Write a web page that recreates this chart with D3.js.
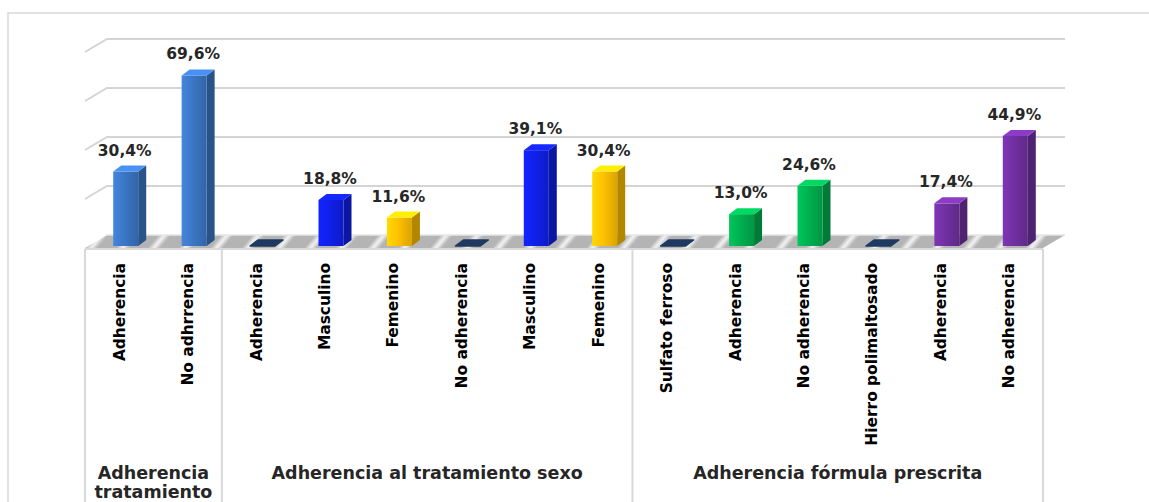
<!DOCTYPE html>
<html>
<head>
<meta charset="utf-8">
<script src="https://cdn.jsdelivr.net/npm/d3@7"></script>
<style>
  html, body { margin: 0; padding: 0; background: #fff; }
  svg { display: block; }
</style>
</head>
<body>
<div id="chart"></div>
<script>
// Chart data
const categories = ["Adherencia", "No adhrrencia", "Adherencia", "Masculino", "Femenino", "No adherencia",
  "Masculino", "Femenino", "Sulfato ferroso", "Adherencia", "No adherencia", "Hierro polimaltosado",
  "Adherencia", "No adherencia"];
const values = [30.4, 69.6, 0, 18.8, 11.6, 0, 39.1, 30.4, 0, 13.0, 24.6, 0, 17.4, 44.9];
const seriesKey = ["tratamiento", "tratamiento", "encabezado", "masculino", "femenino", "encabezado",
  "masculino", "femenino", "encabezado", "sulfato", "sulfato", "encabezado", "hierro", "hierro"];
const groupNames = [["Adherencia", "tratamiento"], ["Adherencia al tratamiento sexo"], ["Adherencia fórmula prescrita"]];
const groupSizes = [2, 6, 6];
const yTicks = [0, 20, 40, 60, 80];

const seriesColors = {
  tratamiento: "#3b76c4",
  encabezado: "#1f3a60",
  masculino: "#1020e8",
  femenino: "#ffc000",
  sulfato: "#00b050",
  hierro: "#7030a0"
};

const width = 1149, height = 502;
const depth = { dx: 22, dy: -13 };   // floor / side wall depth
const barDepth = { dx: 8, dy: -6 };  // bar depth
const floorFrontY = 248;
const barBaseY = 246;

const svg = d3.select("#chart").append("svg")
  .attr("width", width).attr("height", height);
const defs = svg.append("defs");

// Scales
const x = d3.scaleBand().domain(d3.range(categories.length)).range([85, 1043]);
const y = d3.scaleLinear().domain([0, 80]).range([235, 39]);

const fmt = v => d3.format(".1f")(v).replace(".", ",") + "%";

// outer frame
svg.append("path")
  .attr("d", `M8,${height} V13 H${width}`)
  .attr("fill", "none").attr("stroke", "#d9d9d9").attr("stroke-width", 1.5);

// gridlines (back wall + side wall diagonals)
const grid = svg.append("g");
yTicks.filter(t => t > 0).forEach(t => {
  const gy = y(t);
  grid.append("path")
    .attr("d", `M${x.range()[0]},${gy - depth.dy} L${x.range()[0] + depth.dx},${gy} H${x.range()[1] + depth.dx}`)
    .attr("fill", "none").attr("stroke", "#d4d4d4").attr("stroke-width", 2);
});

// floor with soft diagonal stripes
const stripe = defs.append("linearGradient").attr("id", "stripeGrad")
  .attr("x1", "0%").attr("x2", "100%");
stripe.append("stop").attr("offset", "0%").attr("stop-color", "#b4b4b4");
stripe.append("stop").attr("offset", "35%").attr("stop-color", "#b4b4b4");
stripe.append("stop").attr("offset", "55%").attr("stop-color", "#f4f4f4");
stripe.append("stop").attr("offset", "75%").attr("stop-color", "#b4b4b4");
stripe.append("stop").attr("offset", "100%").attr("stop-color", "#b4b4b4");

const pat = defs.append("pattern")
  .attr("id", "floorPat").attr("patternUnits", "userSpaceOnUse")
  .attr("width", 24).attr("height", 24)
  .attr("patternTransform", "rotate(40)");
pat.append("rect").attr("width", 24).attr("height", 24).attr("fill", "url(#stripeGrad)");

const fx0 = x.range()[0], fx1 = x.range()[1];
svg.append("path")
  .attr("d", `M${fx0},${floorFrontY} L${fx0 + depth.dx},${floorFrontY + depth.dy} L${fx1 + depth.dx},${floorFrontY + depth.dy} L${fx1},${floorFrontY} Z`)
  .attr("fill", "url(#floorPat)");
svg.append("line")
  .attr("x1", fx0 + depth.dx).attr("x2", fx1 + depth.dx)
  .attr("y1", floorFrontY + depth.dy).attr("y2", floorFrontY + depth.dy)
  .attr("stroke", "#e6e6e6").attr("stroke-width", 1.5);

// gradients for bar front faces
Object.entries(seriesColors).forEach(([k, c]) => {
  const g = defs.append("linearGradient").attr("id", "grad-" + k)
    .attr("x1", "0%").attr("x2", "100%");
  g.append("stop").attr("offset", "0%").attr("stop-color", d3.color(c).brighter(0.35));
  g.append("stop").attr("offset", "45%").attr("stop-color", c);
  g.append("stop").attr("offset", "100%").attr("stop-color", d3.color(c).darker(0.45));
});

// bars
const bars = svg.append("g").selectAll("g")
  .data(values.map((v, i) => ({ v, i, key: seriesKey[i] })))
  .join("g");

bars.each(function (d) {
  const g = d3.select(this);
  const c = seriesColors[d.key];
  const cx = x(d.i) + x.bandwidth() / 2;
  const x0 = cx - 6, x1 = cx + 19;
  const h = y(0) - y(d.v);
  const top = barBaseY - h;
  const bx = barDepth.dx, by = barDepth.dy;

  if (d.v === 0) {
    g.append("path")
      .attr("d", `M${x0},${barBaseY} L${x0 + bx},${barBaseY + by} L${x1 + bx},${barBaseY + by} L${x1},${barBaseY} Z`)
      .attr("fill", c).attr("stroke", c).attr("stroke-width", 1.5).attr("stroke-linejoin", "round");
    return;
  }
  // side face
  g.append("path")
    .attr("d", `M${x1},${barBaseY} L${x1 + bx},${barBaseY + by} L${x1 + bx},${top + by} L${x1},${top} Z`)
    .attr("fill", d3.color(c).darker(1));
  // front face
  g.append("rect")
    .attr("x", x0).attr("y", top).attr("width", x1 - x0).attr("height", h)
    .attr("fill", `url(#grad-${d.key})`);
  // top face
  g.append("path")
    .attr("d", `M${x0},${top} L${x0 + bx},${top + by} L${x1 + bx},${top + by} L${x1},${top} Z`)
    .attr("fill", d3.color(c).brighter(0.6));

  // value label
  g.append("text")
    .attr("x", cx + 5.5).attr("y", top - 16)
    .attr("text-anchor", "middle")
    .attr("font-family", "DejaVu Sans").attr("font-weight", "bold")
    .attr("font-size", 15.5).attr("fill", "#262626")
    .text(fmt(d.v));
});

// category table
const table = svg.append("g").attr("stroke", "#d9d9d9").attr("stroke-width", 2).attr("fill", "none");
table.append("line").attr("x1", fx0).attr("x2", fx1).attr("y1", 249).attr("y2", 249);
let acc = 0;
const bounds = [0];
groupSizes.forEach(s => { acc += s; bounds.push(acc); });
bounds.forEach(b => {
  const bx = b < categories.length ? x(b) : fx1;
  table.append("line").attr("x1", bx).attr("x2", bx).attr("y1", 249).attr("y2", height);
});

// category labels (rotated)
svg.append("g").selectAll("text")
  .data(categories)
  .join("text")
  .attr("transform", (d, i) => `translate(${x(i) + x.bandwidth() / 2},263) rotate(-90)`)
  .attr("dy", "0.36em")
  .attr("text-anchor", "end")
  .attr("font-family", "DejaVu Sans").attr("font-weight", "bold")
  .attr("font-size", 15.4).attr("fill", "#000")
  .text(d => d);

// group labels
groupNames.forEach((lines, gi) => {
  const start = x(bounds[gi]);
  const end = bounds[gi + 1] < categories.length ? x(bounds[gi + 1]) : fx1;
  const t = svg.append("text")
    .attr("x", (start + end) / 2).attr("y", 479)
    .attr("text-anchor", "middle")
    .attr("font-family", "DejaVu Sans").attr("font-weight", "bold")
    .attr("font-size", 17.5).attr("fill", "#262626");
  lines.forEach((l, li) => {
    t.append("tspan").attr("x", (start + end) / 2).attr("dy", li === 0 ? 0 : 19).text(l);
  });
});
</script>
</body>
</html>
